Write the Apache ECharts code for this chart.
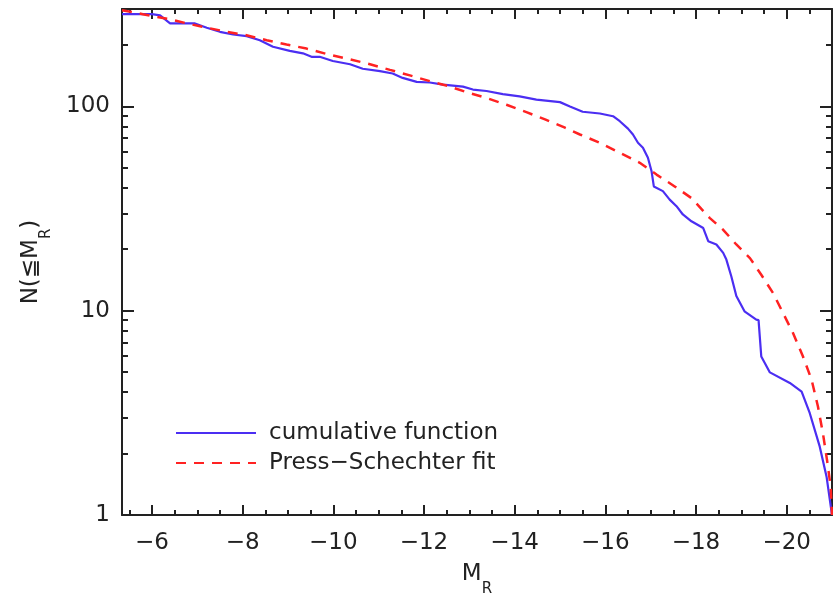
<!DOCTYPE html>
<html>
<head>
<meta charset="utf-8">
<script src="https://cdn.jsdelivr.net/npm/echarts@6/dist/echarts.min.js"></script>
<style>
  html, body { margin: 0; padding: 0; background: #fff; }
  #chart { width: 833px; height: 594px; }
</style>
</head>
<body>
<div id="chart"></div>
<script>
// cumulative function
const cumM = [-5.34, -6.0, -6.18, -6.40, -6.95, -7.21, -7.50, -7.79, -8.09, -8.38, -8.67, -9.04, -9.33,
  -9.52, -9.70, -9.99, -10.37, -10.65, -11.03, -11.31, -11.53, -11.84, -12.13, -12.42, -12.86, -13.08,
  -13.38, -13.74, -14.11, -14.48, -15.00, -15.22, -15.50, -15.88, -16.17, -16.32, -16.50, -16.61, -16.72,
  -16.83, -16.94, -17.02, -17.07, -17.27, -17.42, -17.57, -17.71, -17.90, -18.16, -18.27, -18.45, -18.60,
  -18.67, -18.78, -18.89, -19.07, -19.33, -19.38, -19.44, -19.63, -20.07, -20.33, -20.51, -20.73, -20.88, -21.0]
const cumN = [283, 283, 279, 255, 255, 243, 232, 225, 221, 211, 196, 187, 182,
  175, 175, 167, 161, 153, 149, 145, 138, 132, 131, 128, 125, 121,
  119, 115, 112, 108, 105, 100, 94.2, 92.4, 89.6, 84.7, 77.9, 72.9, 66.4,
  62.8, 56.1, 48.2, 40.6, 38.5, 35.0, 32.5, 29.6, 27.4, 25.4, 21.9, 21.1, 19.2,
  17.8, 14.7, 11.8, 9.93, 9.04, 9.0, 5.97, 4.99, 4.43, 4.02, 3.15, 2.16, 1.54, 1.0]

// Press-Schechter fit
const fitM = [-5.34, -5.80, -6.40, -6.77, -7.21, -7.65, -8.05, -8.53, -8.97, -9.41, -9.88, -10.37, -10.81,
  -11.25, -11.69, -12.13, -12.53, -12.97, -13.38, -13.82, -14.26, -14.67, -15.11, -15.44, -15.88, -16.32,
  -16.76, -17.13, -17.53, -17.90, -18.30, -18.60, -18.89, -19.19, -19.44, -19.70, -19.92, -20.14, -20.36,
  -20.55, -20.69, -20.80, -20.89, -20.97, -21.0]
const fitN = [296, 283, 267, 255, 243, 232, 224, 211, 201, 192, 180, 170, 161,
  151, 142, 133, 126, 117, 110, 102, 93.8, 86.4, 78.7, 72.9, 66.4, 59.3,
  53.0, 46.4, 40.6, 35.6, 28.5, 24.9, 21.1, 18.1, 15.0, 12.2, 9.75, 7.78, 5.97,
  4.59, 3.40, 2.51, 1.86, 1.38, 1.0]

const xTicks = [-6, -8, -10, -12, -14, -16, -18, -20]
const xMinor = [-5.5, -6.5, -7, -7.5, -8.5, -9, -9.5, -10.5, -11, -11.5, -12.5, -13, -13.5, -14.5, -15,
  -15.5, -16.5, -17, -17.5, -18.5, -19, -19.5, -20.5]
const yTicks = [1, 10, 100]
const yMinor = [2, 3, 4, 5, 6, 7, 8, 9, 20, 30, 40, 50, 60, 70, 80, 90, 200, 300]

const font = 'DejaVu Sans'
const ink = '#222'
const xMin = -21, xMax = -5.34
const yMin = 1, yMax = 300

const xAx = (pos, ticks, len, line, labels) => ({
  type: 'value', position: pos, inverse: true, min: xMin, max: xMax,
  axisLine: { show: line, onZero: false, lineStyle: { color: ink, width: 2 } },
  axisTick: { show: true, inside: true, length: len, customValues: ticks, lineStyle: { color: ink, width: 2 } },
  axisLabel: {
    show: labels, customValues: ticks, margin: 17, color: ink, fontSize: 23, fontFamily: font,
    formatter: v => '\u2212' + Math.abs(v)
  },
  splitLine: { show: false }
})
const yAx = (pos, ticks, len, line, labels) => ({
  type: 'log', position: pos, min: yMin, max: yMax, logBase: 10,
  axisLine: { show: line, onZero: false, lineStyle: { color: ink, width: 2 } },
  axisTick: { show: true, inside: true, length: len, customValues: ticks, lineStyle: { color: ink, width: 2 } },
  axisLabel: { show: labels, customValues: ticks, margin: 12, color: ink, fontSize: 23, fontFamily: font },
  splitLine: { show: false }
})

const sub = {
  a: { fontSize: 23, fontFamily: font, color: ink, lineHeight: 34, verticalAlign: 'top' },
  s: { fontSize: 15, fontFamily: font, color: ink, lineHeight: 34, verticalAlign: 'bottom' }
}

const xMain = xAx('bottom', xTicks, 10, true, true)
xMain.name = '{a|M}{s|R}'
xMain.nameLocation = 'middle'
xMain.nameGap = 48
xMain.nameTextStyle = { rich: sub }

const yMain = yAx('left', yTicks, 12, true, true)
yMain.name = '{a|N(\u2266M}{s|R}{a|)}'
yMain.nameLocation = 'middle'
yMain.nameRotate = 90
yMain.nameGap = 68
yMain.nameTextStyle = { rich: sub }

const chart = echarts.init(document.getElementById('chart'))
chart.setOption({
  animation: false,
  grid: { left: 122, right: 1, top: 9, bottom: 79, containLabel: false, outerBoundsMode: 'none' },
  xAxis: [
    xMain,
    xAx('bottom', xMinor, 5, false, false),
    xAx('top', xTicks, 10, true, false),
    xAx('top', xMinor, 5, false, false)
  ],
  yAxis: [
    yMain,
    yAx('left', yMinor, 6, false, false),
    yAx('right', yTicks, 12, true, false),
    yAx('right', yMinor, 6, false, false)
  ],
  legend: {
    orient: 'vertical', left: 170, top: 413, itemWidth: 80, itemHeight: 26, itemGap: 0,
    itemStyle: { opacity: 0 },
    textStyle: { fontSize: 23, fontFamily: font, color: ink, padding: [0, 0, 0, 8], lineHeight: 30 },
    data: ['cumulative function', 'Press\u2212Schechter fit']
  },
  series: [
    {
      name: 'cumulative function', type: 'line', symbol: 'none',
      data: cumM.map((m, i) => [m, cumN[i]]),
      lineStyle: { color: '#4b2ef2', width: 2.2 }, itemStyle: { color: '#4b2ef2' }
    },
    {
      name: 'Press\u2212Schechter fit', type: 'line', symbol: 'none',
      data: fitM.map((m, i) => [m, fitN[i]]),
      lineStyle: { color: '#ff2222', width: 2.5, type: [10, 8] }, itemStyle: { color: '#ff2222' }
    }
  ]
})
</script>
</body>
</html>
